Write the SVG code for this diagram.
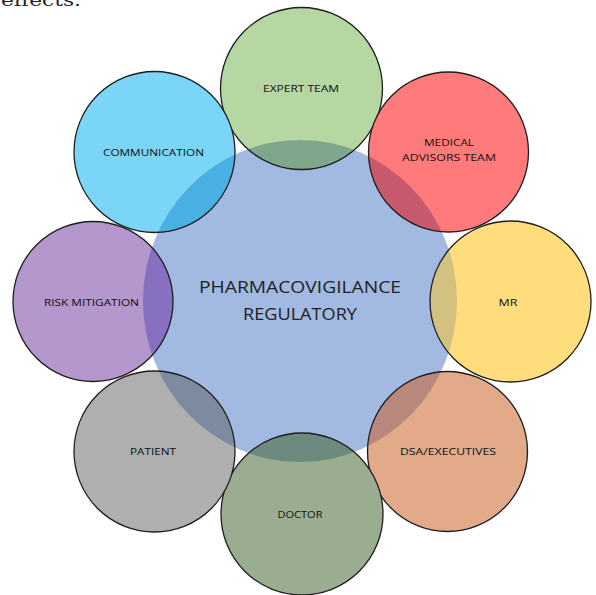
<svg xmlns="http://www.w3.org/2000/svg" width="596" height="595" viewBox="0 0 596 595">
<style>
.fill{stroke:none}
.ring{fill:none;stroke:#1e1e1e;stroke-width:1.3}
.lbl{font-family:"Open Sans","Liberation Sans",sans-serif;font-size:9.5px;fill:#111;text-anchor:middle}
.big{font-family:"Open Sans","Liberation Sans",sans-serif;font-size:17px;fill:#222;text-anchor:middle}
</style>
<defs>
<clipPath id="cc"><ellipse cx="300" cy="301" rx="157" ry="161"/></clipPath>
</defs>
<rect width="596" height="595" fill="#ffffff"/>
<text x="1" y="6" font-family="DejaVu Serif, serif" font-size="16" fill="#222" textLength="80" lengthAdjust="spacingAndGlyphs">effects.</text>
<g id="center">
<ellipse cx="300" cy="301" rx="157" ry="161" fill="#a2b9e2"/>
</g>
<g id="expert-team">
<circle cx="301.5" cy="88.5" r="81" fill="#b6d6a2"/>
<circle cx="301.5" cy="88.5" r="81" fill="#7ea78c" clip-path="url(#cc)"/>
<circle class="ring" cx="301.5" cy="88.5" r="81"/>
</g>
<g id="medical-advisors-team">
<circle cx="448.5" cy="152" r="80" fill="#ff7b7b"/>
<circle cx="448.5" cy="152" r="80" fill="#c85a6e" clip-path="url(#cc)"/>
<circle class="ring" cx="448.5" cy="152" r="80"/>
</g>
<g id="communication">
<circle cx="154.5" cy="152" r="80.5" fill="#7ad5f6"/>
<circle cx="154.5" cy="152" r="80.5" fill="#4aafe2" clip-path="url(#cc)"/>
<circle class="ring" cx="154.5" cy="152" r="80.5"/>
</g>
<g id="risk-mitigation">
<circle cx="93" cy="301.5" r="80" fill="#b497cd"/>
<circle cx="93" cy="301.5" r="80" fill="#8770c0" clip-path="url(#cc)"/>
<circle class="ring" cx="93" cy="301.5" r="80"/>
</g>
<g id="mr">
<circle cx="510.5" cy="301.5" r="80.5" fill="#ffdc7c"/>
<circle cx="510.5" cy="301.5" r="80.5" fill="#d3c27f" clip-path="url(#cc)"/>
<circle class="ring" cx="510.5" cy="301.5" r="80.5"/>
</g>
<g id="dsa-executives">
<circle cx="447.5" cy="451.5" r="80" fill="#e2aa88"/>
<circle cx="447.5" cy="451.5" r="80" fill="#b8887c" clip-path="url(#cc)"/>
<circle class="ring" cx="447.5" cy="451.5" r="80"/>
</g>
<g id="doctor">
<circle cx="302" cy="514" r="81" fill="#9bad90"/>
<circle cx="302" cy="514" r="81" fill="#6c8a7e" clip-path="url(#cc)"/>
<circle class="ring" cx="302" cy="514" r="81"/>
</g>
<g id="patient">
<circle cx="154.5" cy="451.5" r="80.5" fill="#afafaf"/>
<circle cx="154.5" cy="451.5" r="80.5" fill="#7e8aa0" clip-path="url(#cc)"/>
<circle class="ring" cx="154.5" cy="451.5" r="80.5"/>
</g>
<g id="connectors"></g>
<g id="labels">
<text class="big" x="300" y="293" textLength="202" lengthAdjust="spacingAndGlyphs">PHARMACOVIGILANCE</text>
<text class="big" x="300" y="320" textLength="114" lengthAdjust="spacingAndGlyphs">REGULATORY</text>
<text class="lbl" x="301" y="92" textLength="76" lengthAdjust="spacingAndGlyphs">EXPERT TEAM</text>
<text class="lbl" x="449" y="146" textLength="50" lengthAdjust="spacingAndGlyphs">MEDICAL</text>
<text class="lbl" x="449" y="161" textLength="94" lengthAdjust="spacingAndGlyphs">ADVISORS TEAM</text>
<text class="lbl" x="153.5" y="156" textLength="101" lengthAdjust="spacingAndGlyphs">COMMUNICATION</text>
<text class="lbl" x="91.5" y="306" textLength="95" lengthAdjust="spacingAndGlyphs">RISK MITIGATION</text>
<text class="lbl" x="508" y="306" textLength="19" lengthAdjust="spacingAndGlyphs">MR</text>
<text class="lbl" x="448" y="455" textLength="96" lengthAdjust="spacingAndGlyphs">DSA/EXECUTIVES</text>
<text class="lbl" x="300" y="518" textLength="45" lengthAdjust="spacingAndGlyphs">DOCTOR</text>
<text class="lbl" x="153" y="455" textLength="46" lengthAdjust="spacingAndGlyphs">PATIENT</text>
</g>
</svg>
